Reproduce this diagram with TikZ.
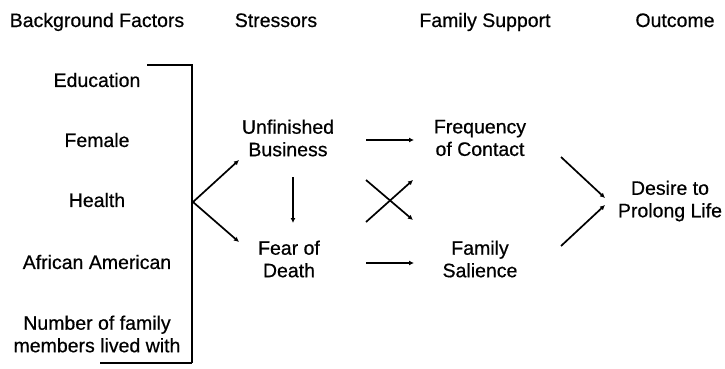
\documentclass[tikz,border=0pt]{standalone}
\usepackage{fontspec}
\setmainfont[FakeBold=0.6]{Liberation Sans}
\usetikzlibrary{arrows.meta}
\begin{document}
\begin{tikzpicture}[x=1pt,y=1pt,
  lbl/.style={inner sep=0pt, align=center, font=\fontsize{19.5}{22.5}\selectfont},
  hd/.style={lbl, anchor=base},
  ln/.style={line width=1.7pt},
  arr/.style={ln, -{Latex[length=5pt,width=5pt]}}]
\useasboundingbox (0,0) rectangle (725,-368);
% headers
\node[hd] (h1) at (97,-27) {Background Factors};
\node[hd] (h2) at (276,-27) {Stressors};
\node[hd] (h3) at (485,-27) {Family Support};
\node[hd] (h4) at (675,-27) {Outcome};
% background factors
\node[lbl] (edu) at (97,-80) {Education};
\node[lbl] (fem) at (97,-140) {Female};
\node[lbl] (hea) at (97,-200) {Health};
\node[lbl] (afr) at (97,-262) {African American};
\node[lbl] (num) at (97,-334) {Number of family\\members lived with};
% stressors etc
\node[lbl] (ub) at (288,-138) {Unfinished\\Business};
\node[lbl] (fd) at (289,-259) {Fear of\\Death};
\node[lbl] (fc) at (480,-138) {Frequency\\of Contact};
\node[lbl] (fs) at (480,-259) {Family\\Salience};
\node[lbl] (dp) at (670,-201) {Desire to\\Prolong Life};
% bracket
\coordinate (bt) at (147,-65);
\coordinate (btr) at (192,-65);
\coordinate (bbr) at (192,-363);
\coordinate (bb) at (100,-363);
\draw[ln] (bt) -- (btr) -- (bbr);
\draw[line width=1.2pt] (bb) -- (bbr);
\coordinate (br) at (193,-202);
% arrow endpoints
\coordinate (ubin) at (239,-160);
\coordinate (fdin) at (239,-242);
\draw[arr] (br) -- (ubin);
\draw[arr] (br) -- (fdin);
\coordinate (ubout) at (293,-177);
\coordinate (fdtop) at (293,-223);
\draw[arr] (ubout) -- (fdtop);
\coordinate (ubr) at (366,-140);
\coordinate (fcl) at (414,-140);
\draw[arr] (ubr) -- (fcl);
\coordinate (fdr) at (366,-263);
\coordinate (fsl) at (414,-263);
\draw[arr] (fdr) -- (fsl);
\coordinate (xa) at (366,-180);
\coordinate (xb) at (413,-220);
\coordinate (xc) at (366,-222);
\coordinate (xd) at (413,-180);
\draw[arr] (xa) -- (xb);
\draw[arr] (xc) -- (xd);
\coordinate (fco) at (561,-157);
\coordinate (dpa) at (605,-198);
\coordinate (fso) at (561,-246);
\coordinate (dpb) at (605,-205);
\draw[arr] (fco) -- (dpa);
\draw[arr] (fso) -- (dpb);
\end{tikzpicture}
\end{document}
